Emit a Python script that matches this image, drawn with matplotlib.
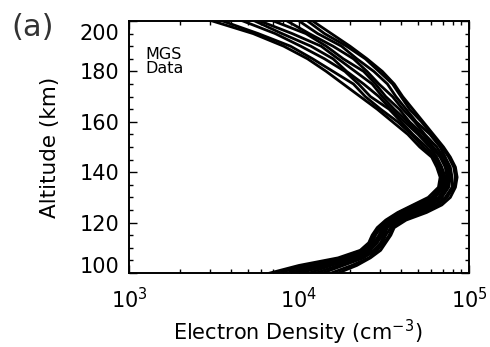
import matplotlib
matplotlib.use("Agg")
import matplotlib.pyplot as plt
import matplotlib.transforms as mtransforms
from matplotlib.ticker import MultipleLocator, LogLocator, NullFormatter
import numpy as np

# MGS radio occultation electron density profiles, log10(Ne / cm^-3) vs altitude
alt_km = [96, 100, 103, 106, 109, 112, 115, 118, 121, 124, 127, 130, 134, 138,
          142, 146, 150, 155, 160, 165, 170, 175, 180, 185, 190, 195, 200, 204]

log_ne_1 = [3.60, 3.83, 4.00, 4.23, 4.36, 4.41, 4.43, 4.46, 4.51, 4.58, 4.67, 4.76, 4.82, 4.83,
            4.81, 4.78, 4.71, 4.64, 4.55, 4.46, 4.36, 4.26, 4.16, 4.05, 3.91, 3.73, 3.49, 3.29]
log_ne_2 = [3.66, 3.88, 4.04, 4.25, 4.37, 4.42, 4.44, 4.47, 4.52, 4.59, 4.68, 4.78, 4.83, 4.84,
            4.82, 4.79, 4.73, 4.66, 4.58, 4.48, 4.39, 4.32, 4.20, 4.08, 3.95, 3.76, 3.55, 3.36]
log_ne_3 = [3.71, 3.93, 4.08, 4.27, 4.38, 4.43, 4.45, 4.48, 4.53, 4.61, 4.70, 4.79, 4.84, 4.85,
            4.83, 4.80, 4.75, 4.67, 4.60, 4.53, 4.42, 4.35, 4.27, 4.15, 4.01, 3.86, 3.67, 3.48]
log_ne_4 = [3.77, 3.97, 4.12, 4.30, 4.40, 4.44, 4.47, 4.49, 4.55, 4.63, 4.72, 4.80, 4.85, 4.86,
            4.84, 4.81, 4.77, 4.70, 4.62, 4.54, 4.47, 4.38, 4.28, 4.20, 4.07, 3.90, 3.74, 3.55]
log_ne_5 = [3.82, 4.01, 4.16, 4.32, 4.41, 4.45, 4.48, 4.50, 4.56, 4.65, 4.74, 4.82, 4.86, 4.87,
            4.86, 4.83, 4.78, 4.71, 4.64, 4.56, 4.49, 4.43, 4.33, 4.23, 4.13, 3.96, 3.77, 3.63]
log_ne_6 = [3.87, 4.06, 4.19, 4.34, 4.42, 4.46, 4.49, 4.51, 4.57, 4.67, 4.76, 4.83, 4.87, 4.88,
            4.87, 4.84, 4.79, 4.73, 4.65, 4.59, 4.51, 4.45, 4.38, 4.26, 4.16, 4.04, 3.85, 3.70]
log_ne_7 = [3.92, 4.10, 4.23, 4.36, 4.44, 4.48, 4.50, 4.52, 4.59, 4.69, 4.78, 4.84, 4.88, 4.89,
            4.88, 4.85, 4.81, 4.74, 4.68, 4.61, 4.55, 4.47, 4.40, 4.32, 4.20, 4.06, 3.93, 3.79]
log_ne_8 = [3.98, 4.14, 4.26, 4.38, 4.45, 4.49, 4.51, 4.54, 4.60, 4.71, 4.80, 4.86, 4.90, 4.90,
            4.89, 4.86, 4.83, 4.77, 4.69, 4.63, 4.57, 4.52, 4.44, 4.34, 4.25, 4.11, 4.00, 3.87]
log_ne_9 = [4.04, 4.19, 4.31, 4.41, 4.46, 4.50, 4.53, 4.55, 4.61, 4.73, 4.82, 4.87, 4.91, 4.92,
            4.91, 4.88, 4.84, 4.78, 4.72, 4.65, 4.60, 4.55, 4.47, 4.39, 4.28, 4.15, 4.05, 3.94]
log_ne_10 = [4.08, 4.23, 4.34, 4.42, 4.48, 4.51, 4.54, 4.56, 4.63, 4.75, 4.84, 4.89, 4.92, 4.93,
             4.92, 4.89, 4.85, 4.79, 4.73, 4.67, 4.61, 4.56, 4.49, 4.40, 4.30, 4.19, 4.08, 3.99]

y_ticks = [100, 120, 140, 160, 180, 200]


def main():
    plt.rcParams["font.family"] = "DejaVu Sans"
    fig = plt.figure(figsize=(4.9, 3.47), dpi=100)
    ax = fig.add_axes([0.2633, 0.2133, 0.6939, 0.7262])

    profiles = [log_ne_1, log_ne_2, log_ne_3, log_ne_4, log_ne_5,
                log_ne_6, log_ne_7, log_ne_8, log_ne_9, log_ne_10]
    for prof in profiles:
        ax.plot(10 ** np.array(prof), alt_km, color="black", lw=2.0)

    ax.set_xscale("log")
    ax.set_xlim(1e3, 1e5)
    ax.set_ylim(100, 200)
    ax.set_yticks(y_ticks)
    ax.yaxis.set_minor_locator(MultipleLocator(5))
    ax.xaxis.set_minor_locator(LogLocator(base=10, subs=np.arange(2, 10)))
    ax.xaxis.set_minor_formatter(NullFormatter())

    for side in ax.spines.values():
        side.set_linewidth(1.4)
    ax.tick_params(which="both", direction="in", top=True, right=True,
                   width=1.0, labelsize=15)
    ax.tick_params(which="major", length=5.5)
    ax.tick_params(which="minor", length=3)
    ax.tick_params(axis="x", pad=10)
    ax.tick_params(axis="y", pad=7)

    # end labels sit inside the axis range
    fig.canvas.draw()
    ylabels = ax.get_yticklabels()
    down = mtransforms.ScaledTranslation(0, -0.11, fig.dpi_scale_trans)
    up = mtransforms.ScaledTranslation(0, 0.08, fig.dpi_scale_trans)
    ylabels[-1].set_transform(ylabels[-1].get_transform() + down)
    ylabels[0].set_transform(ylabels[0].get_transform() + up)

    ax.set_xlabel("Electron Density (cm$^{-3}$)", fontsize=15)
    ax.set_ylabel("Altitude (km)", fontsize=15.5)
    ax.xaxis.set_label_coords(0.496, -0.176)
    ax.yaxis.set_label_coords(-0.203, 0.5)

    ax.text(0.047, 0.897, "MGS\nData", transform=ax.transAxes, fontsize=11.5,
            va="top", ha="left", linespacing=0.95)
    fig.text(32.5 / 490, 1 - 28 / 347, "(a)", fontsize=22, color="#333333",
             ha="center", va="center")

    fig.savefig("out.png", dpi=100)


if __name__ == "__main__":
    main()
